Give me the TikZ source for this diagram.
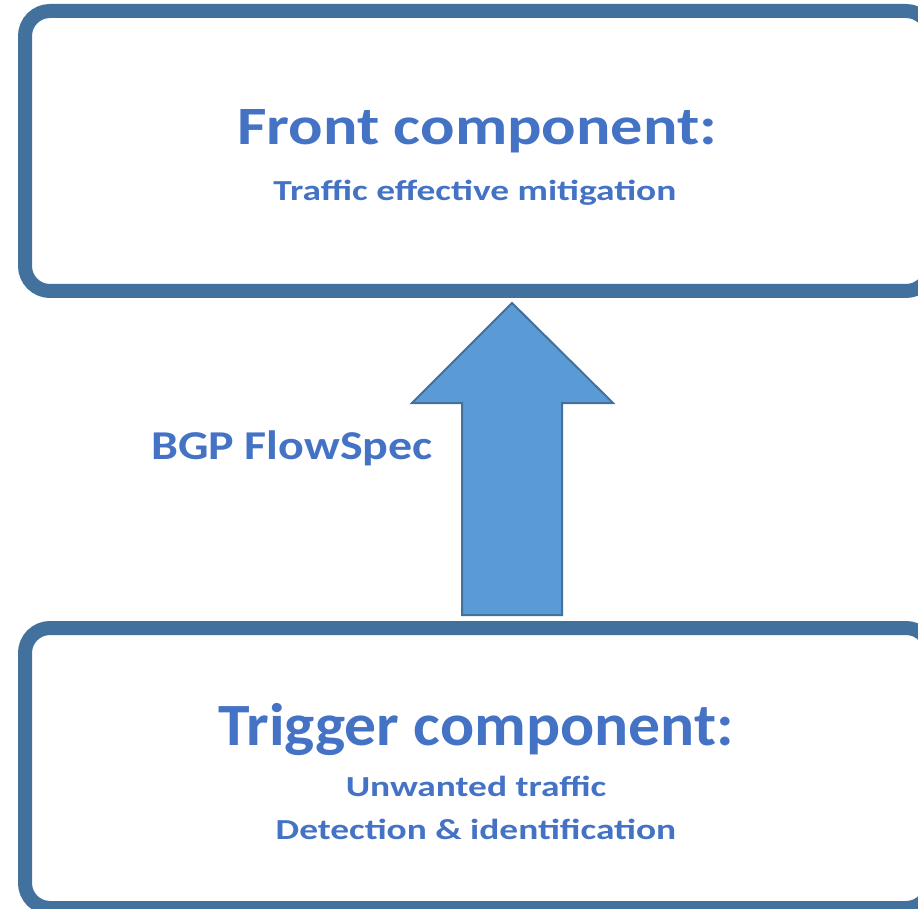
\documentclass[tikz,border=0pt]{standalone}
\usepackage{fontspec}
\setmainfont{Carlito}
\usetikzlibrary{positioning}

\definecolor{boxline}{RGB}{65,113,156}
\definecolor{arrowfill}{RGB}{91,155,213}
\definecolor{textblue}{RGB}{68,114,196}

\tikzset{
    compbox/.style={draw=boxline, line width=14pt, rounded corners=25pt,
        minimum width=906pt, minimum height=280pt, inner sep=0pt},
    title/.style={anchor=base, text=textblue, font=\bfseries\fontsize{54}{60}\selectfont},
    subtitle/.style={anchor=base, text=textblue, xscale=1.29, font=\bfseries\fontsize{29}{34}\selectfont},
    flowarrow/.style={draw=boxline, line width=2pt, fill=arrowfill}
}

\begin{document}
\begin{tikzpicture}[x=1pt, y=-1pt]
    \useasboundingbox (0, 0) rectangle (918, 909);

    % the two components
    \node[compbox] (front) at (478, 151) {};
    \node[compbox] (trigger) at (478, 768) {};

    % upward block arrow
    \draw[flowarrow] (512, 303) -- (613, 403) -- (562, 403) -- (562, 615)
        -- (462, 615) -- (462, 403) -- (412, 403) -- cycle;

    \node[title, xscale=1.19] (fronttitle) at (477, 145) {Front component:};
    \node[subtitle] (frontsub) at (475, 201) {Traffic effective mitigation};

    \node[title, xscale=1.06, font=\bfseries\fontsize{60}{66}\selectfont] (triggertitle) at (476, 745) {Trigger component:};
    \node[subtitle] (triggersub) at (476, 796) {Unwanted traffic};
    \node[subtitle] (triggersubb) at (476, 839) {Detection \& identification};

    \node[title, xscale=1.17, font=\bfseries\fontsize{41}{46}\selectfont] (flowspec) at (292, 459) {BGP FlowSpec};
\end{tikzpicture}
\end{document}
